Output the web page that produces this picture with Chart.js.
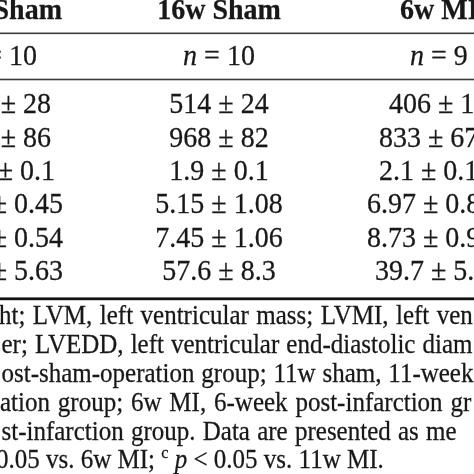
<!DOCTYPE html>
<html>
<head>
<meta charset="utf-8">
<script src="https://cdn.jsdelivr.net/npm/chart.js@4"></script>
<style>
  html, body { margin: 0; padding: 0; background: #fff; }
  #table { display: block; }
</style>
</head>
<body>
<canvas id="table" width="474" height="474"></canvas>
<script>
// table content (visible part of the crop), *..* = italic, ^x = superscript
var headers = ['Sham', '16w Sham', '6w MI'];
var groupN = ['= 10', '*n* = 10', '*n* = 9'];
var col1Values = ['± 28', '± 86', '± 0.1', '± 0.45', '± 0.54', '± 5.63'];
var col2Values = ['514 ± 24', '968 ± 82', '1.9 ± 0.1', '5.15 ± 1.08', '7.45 ± 1.06', '57.6 ± 8.3'];
var col3Values = ['406 ± 1', '833 ± 67', '2.1 ± 0.1', '6.97 ± 0.8', '8.73 ± 0.9', '39.7 ± 5.'];
var notes = [
  'ht; LVM, left ventricular mass; LVMI, left ven',
  'er; LVEDD, left ventricular end-diastolic diam',
  'ost-sham-operation group; 11w sham, 11-week',
  'ation group; 6w MI, 6-week post-infarction gr',
  'st-infarction group. Data are presented as me',
  '0.05 vs. 6w MI; ^c *p* < 0.05 vs. 11w MI.'
];

// layout (pixels / row units), kept apart from the data
var rowUnit = 33.33;
var colStep = 219;
var headerRow = 0.57, nRow = 1.95, firstDataRow = 3.40;
var rules = [[1.0, 1.6, '#3a3a3a'], [2.385, 1.6, '#3a3a3a'], [8.965, 2.8, '#111']];
var noteRow = 9.72, noteStep = 0.867;
var col1Ends = [62, 37, 51, 51, 55, 63, 63, 63];          // right end of visible text
var col3Starts = [-38, -28, -49, -59, -59, -71, -71, -63]; // left start from column centre
var noteStarts = [-1, 1.5, 1.5, 0, 1.5, -4];
var noteWordGap = [1.2, 0.8, 0.6, 1.6, 1.0, 0];            // justified spacing, px per space
var bodySize = 28, bodyScale = 1.0, bodyTall = 1.03;
var noteSize = 25, noteScale = 1.0, noteTall = 1.07;
var ink = '#181818';

function parse(s) {
  return s.split(/(\*[^*]+\*|\^[a-z])/).filter(function (p) { return p.length; }).map(function (p) {
    if (p[0] === '*') return { t: p.slice(1, -1), italic: true };
    if (p[0] === '^') return { t: p.slice(1), sup: true };
    return { t: p };
  });
}

function fontFor(seg, size, bold) {
  var sz = seg.sup ? size * 0.65 : size;
  return (seg.italic ? 'italic ' : '') + (bold ? 'bold ' : '') + sz + 'px "Liberation Serif"';
}

function drawRich(ctx, text, x, y, align, size, sx, sy, bold, gap) {
  var segs = parse(text);
  var w = 0;
  gap = gap || 0;
  segs.forEach(function (s) {
    ctx.font = fontFor(s, size, bold);
    s.w = ctx.measureText(s.t).width + gap * (s.t.split(' ').length - 1);
    w += s.w;
  });
  var start = x;
  if (align === 'right') start = x - w * sx;
  if (align === 'center') start = x - w * sx / 2;
  ctx.save();
  ctx.translate(start, y);
  ctx.scale(sx, sy);
  ctx.fillStyle = ink;
  ctx.strokeStyle = ink;
  ctx.lineWidth = 0.25;
  ctx.textBaseline = 'alphabetic';
  ctx.textAlign = 'left';
  var cx = 0;
  segs.forEach(function (s) {
    ctx.font = fontFor(s, size, bold);
    var ty = s.sup ? -size * 0.38 : 0;
    var space = ctx.measureText(' ').width + gap;
    var wx = cx;
    s.t.split(' ').forEach(function (word, i) {
      if (i > 0) wx += space;
      ctx.fillText(word, wx, ty);
      ctx.strokeText(word, wx, ty);
      wx += ctx.measureText(word).width;
    });
    cx += s.w;
  });
  ctx.restore();
}

var tablePlugin = {
  id: 'tableText',
  beforeDraw: function (chart) {
    var ctx = chart.ctx;
    ctx.save();
    ctx.fillStyle = '#fff';
    ctx.fillRect(0, 0, chart.width, chart.height);
    ctx.restore();
  },
  afterDraw: function (chart) {
    var ctx = chart.ctx;
    var xs = chart.scales.x, ys = chart.scales.y;
    var px = function (c) { return xs.getPixelForValue(c); };
    var py = function (r) { return ys.getPixelForValue(r); };

    // rules
    rules.forEach(function (r) {
      ctx.save();
      ctx.fillStyle = r[2];
      ctx.fillRect(0, py(r[0]) - r[1] / 2, chart.width, r[1]);
      ctx.restore();
    });

    var rows = [[headerRow, headers, true], [nRow, groupN, false]];
    col2Values.forEach(function (v, i) {
      rows.push([firstDataRow + i, [col1Values[i], v, col3Values[i]], false]);
    });
    rows.forEach(function (row, k) {
      var y = py(row[0]);
      drawRich(ctx, row[1][0], px(0) + col1Ends[k], y, 'right', bodySize, bodyScale, bodyTall, row[2]);
      drawRich(ctx, row[1][1], px(1), y, 'center', bodySize, bodyScale, bodyTall, row[2]);
      drawRich(ctx, row[1][2], px(2) + col3Starts[k], y, 'left', bodySize, bodyScale, bodyTall, row[2]);
    });

    notes.forEach(function (line, i) {
      drawRich(ctx, line, noteStarts[i], py(noteRow + i * noteStep), 'left', noteSize, noteScale, noteTall, false, noteWordGap[i]);
    });
  }
};

var chart = new Chart(document.getElementById('table'), {
  type: 'scatter',
  data: { datasets: [] },
  options: {
    responsive: false,
    animation: false,
    events: [],
    layout: { padding: 0 },
    plugins: { legend: { display: false }, tooltip: { enabled: false } },
    scales: {
      x: { type: 'linear', display: false, min: 0, max: 474 / colStep },
      y: { type: 'linear', display: false, reverse: true, min: 0, max: 474 / rowUnit }
    }
  },
  plugins: [tablePlugin]
});
</script>
</body>
</html>
